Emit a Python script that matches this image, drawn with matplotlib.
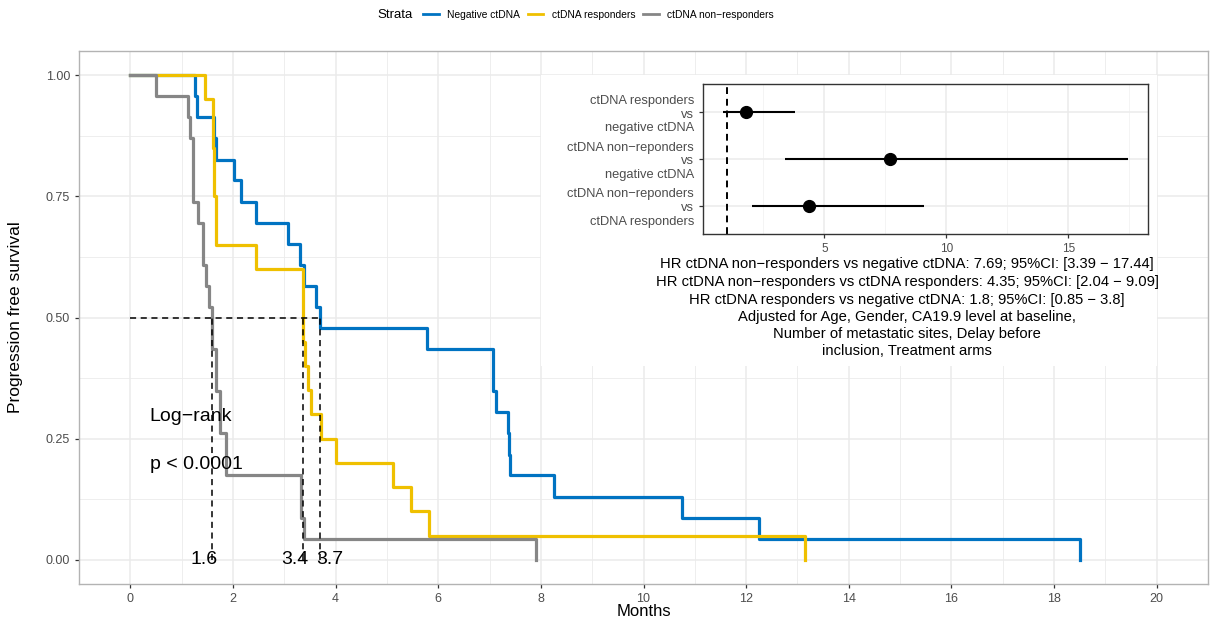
import matplotlib
matplotlib.use("Agg")
import matplotlib.pyplot as plt
from matplotlib.lines import Line2D
from matplotlib.patches import Rectangle
import numpy as np

plt.rcParams['font.family'] = ['Liberation Sans', 'DejaVu Sans']

# ---------------- data ----------------
strata = ["Negative ctDNA", "ctDNA responders", "ctDNA non\u2212responders"]
colors = ["#0073C2", "#EFC000", "#868686"]

neg_time = [0, 1.26, 1.30, 1.64, 1.67, 2.02, 2.15, 2.45, 3.07, 3.31, 3.39, 3.62, 3.70,
            5.79, 7.07, 7.12, 7.35, 7.37, 7.40, 8.26, 10.75, 12.26, 18.5]
neg_surv = [1.0, 0.957, 0.913, 0.870, 0.826, 0.783, 0.739, 0.696, 0.652, 0.609, 0.565, 0.522, 0.478,
            0.435, 0.348, 0.304, 0.261, 0.217, 0.174, 0.130, 0.087, 0.043, 0.0]

resp_time = [0, 1.45, 1.61, 1.63, 1.67, 2.45, 3.36, 3.40, 3.46, 3.52, 3.72, 4.00, 5.11, 5.47, 5.82, 13.15]
resp_surv = [1.0, 0.95, 0.85, 0.75, 0.65, 0.60, 0.45, 0.40, 0.35, 0.30, 0.25, 0.20, 0.15, 0.10, 0.05, 0.0]

nonresp_time = [0, 0.5, 1.13, 1.17, 1.22, 1.32, 1.41, 1.48, 1.54, 1.60, 1.67, 1.74, 1.87, 3.33, 3.39, 7.9]
nonresp_surv = [1.0, 0.957, 0.913, 0.870, 0.739, 0.696, 0.609, 0.565, 0.522, 0.435, 0.348, 0.261, 0.174,
                0.087, 0.043, 0.0]

medians = [1.6, 3.36, 3.7]
median_labels = ["1.6", "3.4", "3.7"]
median_label_x = [1.43, 3.20, 3.89]

x_ticks = list(range(0, 21, 2))
y_ticks = [0.0, 0.25, 0.5, 0.75, 1.0]
y_ticklabels = ["0.00", "0.25", "0.50", "0.75", "1.00"]

# forest inset
hr_labels = ["ctDNA non\u2212reponders\nvs\nctDNA responders",
             "ctDNA non\u2212reponders\nvs\nnegative ctDNA",
             "ctDNA responders\nvs\nnegative ctDNA"]
hr_est = [4.35, 7.69, 1.8]
hr_lo = [2.04, 3.39, 0.85]
hr_hi = [9.09, 17.44, 3.8]

hr_text = ["HR ctDNA non\u2212responders vs negative ctDNA: 7.69; 95%CI: [3.39 \u2212 17.44]",
           "HR ctDNA non\u2212responders vs ctDNA responders: 4.35; 95%CI: [2.04 \u2212 9.09]",
           "HR ctDNA responders vs negative ctDNA: 1.8; 95%CI: [0.85 \u2212 3.8]",
           "Adjusted for Age, Gender, CA19.9 level at baseline,",
           "Number of metastatic sites, Delay before",
           "inclusion, Treatment arms"]

# ---------------- figure ----------------
W, H = 1211, 628
fig = plt.figure(figsize=(W / 100, H / 100), dpi=100)

def fx(px):
    return px / W

def fy(py):
    return 1 - py / H

ax = fig.add_axes([fx(79), fy(584), fx(1208) - fx(79), fy(51) - fy(584)])
ax.set_xlim(-1, 21)
ax.set_ylim(-0.05, 1.05)

grid_c = "#EBEBEB"
for v in np.arange(-1, 22, 1):
    ax.axvline(v, color=grid_c, lw=1.1 if v % 2 == 0 else 0.6, zorder=0)
for v in np.arange(0, 1.01, 0.125):
    ax.axhline(v, color=grid_c, lw=1.1 if abs(v * 4 - round(v * 4)) < 1e-6 else 0.6, zorder=0)

for sp in ax.spines.values():
    sp.set_color("#B3B3B3")
    sp.set_linewidth(1.0)

ax.set_xticks(x_ticks)
ax.set_xticklabels([str(v) for v in x_ticks])
ax.set_yticks(y_ticks)
ax.set_yticklabels(y_ticklabels)
ax.tick_params(axis='both', colors="#333333", labelcolor="#4D4D4D", labelsize=9, length=3, width=0.9)
ax.set_xlabel("Months", fontsize=12, color="black")
ax.set_ylabel("Progression free survival", fontsize=12.5, color="black")
ax.xaxis.set_label_coords(0.5, (584 - 612) / 533)
ax.xaxis.label.set_verticalalignment('center')
ax.yaxis.set_label_coords((16 - 79) / 1129, 0.5)
ax.yaxis.label.set_verticalalignment('center')

# white box behind inset
ax.add_patch(Rectangle((8.0, 0.40), 12.0, 0.60, facecolor="white", edgecolor="none", zorder=1))

# curves
for t, s, c in [(neg_time, neg_surv, colors[0]), (resp_time, resp_surv, colors[1]),
                (nonresp_time, nonresp_surv, colors[2])]:
    ax.step(t, s, where='post', color=c, lw=2.3, zorder=3)

# median lines
ax.plot([0, max(medians)], [0.5, 0.5], color="black", lw=1.1, ls=(0, (4, 3)), zorder=4)
for m in medians:
    ax.plot([m, m], [0, 0.5], color="black", lw=1.1, ls=(0, (4, 3)), zorder=4)
for lx, lab in zip(median_label_x, median_labels):
    ax.text(lx, 0.0, lab, ha='center', va='center', fontsize=14, color="black", zorder=5)

ax.text(0.38, 0.295, "Log\u2212rank", ha='left', va='center', fontsize=14, zorder=5)
ax.text(0.38, 0.196, "p < 0.0001", ha='left', va='center', fontsize=14, zorder=5)

# legend
handles = [Line2D([0], [0], color=c, lw=2.0) for c in colors]
fig.legend(handles, strata, loc='center', bbox_to_anchor=(fx(598.5), fy(15)), ncol=3,
           frameon=False, fontsize=7.4, handlelength=1.5, handletextpad=0.8,
           columnspacing=0.8, borderpad=0)
fig.text(fx(377), fy(15), "Strata", ha='left', va='center', fontsize=9.5)

# ---------------- inset forest plot ----------------
ax2 = fig.add_axes([fx(703), fy(234), fx(1148) - fx(703), fy(84) - fy(234)])
ax2.set_facecolor("white")
ypos = np.arange(1, len(hr_labels) + 1)
ax2.set_xlim(0.02, 18.27)
ax2.set_ylim(0.4, 3.6)
for v in [2.5, 7.5, 12.5, 17.5]:
    ax2.axvline(v, color="#F2F2F2", lw=0.6, zorder=0)
for v in [5, 10, 15]:
    ax2.axvline(v, color=grid_c, lw=1.1, zorder=0)
for v in ypos:
    ax2.axhline(v, color=grid_c, lw=1.1, zorder=0)
ax2.axvline(1, color="black", lw=1.4, ls=(0, (3.5, 2.5)), zorder=2)
ax2.hlines(ypos, hr_lo, hr_hi, color="black", lw=1.5, zorder=3)
ax2.plot(hr_est, ypos, 'o', color="black", ms=8.5, zorder=4)
ax2.set_xticks([5, 10, 15])
ax2.set_xticklabels(["5", "10", "15"])
ax2.tick_params(axis='x', labelsize=8.5)
ax2.set_yticks(ypos)
ax2.set_yticklabels(hr_labels, linespacing=1.2, fontsize=9.3)
ax2.tick_params(axis='both', colors="#333333", labelcolor="#4D4D4D", length=3, width=0.9)
for sp in ax2.spines.values():
    sp.set_color("#333333")
    sp.set_linewidth(1.0)

line_y = [264, 282, 300, 317, 334, 351]
for txt, py in zip(hr_text, line_y):
    fig.text(fx(907), fy(py), txt, ha='center', va='center', fontsize=10.6, color="black")

fig.savefig("out.png", dpi=100)
